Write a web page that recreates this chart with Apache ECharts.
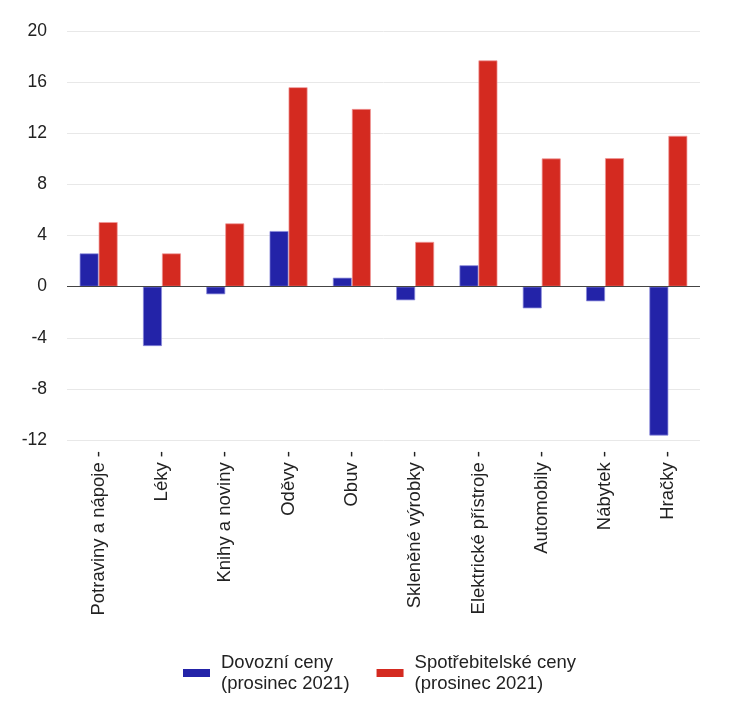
<!DOCTYPE html>
<html><head><meta charset="utf-8">
<script src="https://cdn.jsdelivr.net/npm/echarts@6/dist/echarts.min.js"></script>
<style>html,body{margin:0;padding:0;background:#fff}#c{width:729px;height:712px}</style>
</head><body><div id="c"></div>
<script>
const categories = ["Potraviny a nápoje","Léky","Knihy a noviny","Oděvy","Obuv","Skleněné výrobky","Elektrické přístroje","Automobily","Nábytek","Hračky"];
const importPrices = [2.6, -4.65, -0.6, 4.35, 0.7, -1.07, 1.67, -1.7, -1.15, -11.65];
const consumerPrices = [5.05, 2.6, 4.95, 15.6, 13.9, 3.5, 17.7, 10.03, 10.05, 11.8];
const seriesNames = ["Dovozní ceny\n(prosinec 2021)", "Spotřebitelské ceny\n(prosinec 2021)"];
const yTicks = {min: -12, max: 20, interval: 4};

const chart = echarts.init(document.getElementById('c'));
const font = "'Liberation Sans', Arial, sans-serif";
chart.setOption({
  animation: false,
  textStyle: {fontFamily: font},
  grid: {left: 67, right: 29, top: 31, bottom: 272},
  xAxis: {
    type: 'category', data: categories,
    axisLine: {show: false, onZero: false},
    axisTick: {show: false},
    axisLabel: {rotate: 90, margin: 11, fontSize: 18.5, color: '#222', fontFamily: font,
      formatter: v => v + ' -'}
  },
  yAxis: {
    type: 'value', min: yTicks.min, max: yTicks.max, interval: yTicks.interval,
    axisLine: {show: false}, axisTick: {show: false},
    axisLabel: {fontSize: 17.5, color: '#222', margin: 20, fontFamily: font},
    splitLine: {lineStyle: {color: '#e8e8e8', width: 1}}
  },
  legend: {
    top: 647, left: 178, itemWidth: 27, itemHeight: 8, itemGap: 27,
    itemStyle: {borderWidth: 0},
    textStyle: {fontSize: 18.5, lineHeight: 21, color: '#222', fontFamily: font, padding: [0, 0, 0, 6]},
    data: seriesNames, icon: 'rect'
  },
  series: [
    {name: seriesNames[0], type: 'bar', data: importPrices, barGap: '0%', barCategoryGap: '40%',
     itemStyle: {color: '#2323a8', borderColor: 'rgba(140,140,220,0.9)', borderWidth: 0.8},
     markLine: {silent: true, symbol: 'none', label: {show: false},
       lineStyle: {color: '#444', width: 1.2, type: 'solid'}, data: [{yAxis: 0}]}},
    {name: seriesNames[1], type: 'bar', data: consumerPrices,
     itemStyle: {color: '#d42a20', borderColor: 'rgba(240,150,150,0.9)', borderWidth: 0.8}}
  ]
});
</script></body></html>
